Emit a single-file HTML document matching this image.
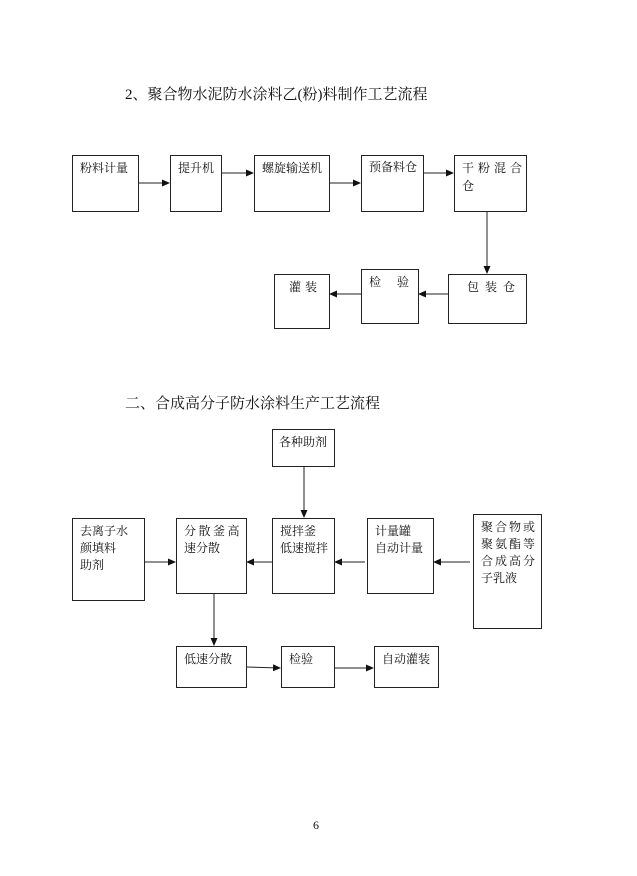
<!DOCTYPE html>
<html><head><meta charset="utf-8"><style>
html,body{margin:0;padding:0;background:#fff;}
body{width:637px;height:876px;position:relative;overflow:hidden;font-family:"Liberation Serif","Noto Serif CJK SC","Noto Sans CJK SC",serif;color:#111;}
.t{position:absolute;font-size:15px;white-space:nowrap;}
svg{position:absolute;left:0;top:0;}
</style></head><body>
<div class="t" style="left:125px;top:83px;">2、聚合物水泥防水涂料乙(粉)料制作工艺流程</div>
<div class="t" style="left:125px;top:392px;">二、合成高分子防水涂料生产工艺流程</div>
<div class="t" style="left:313px;top:818px;font-size:12px">6</div>
<svg width="637" height="876" xmlns="http://www.w3.org/2000/svg" font-family="Liberation Serif, Noto Serif CJK SC, serif" font-size="12" fill="#111">
<defs><marker id="a" markerWidth="8" markerHeight="8" refX="7" refY="4" orient="auto" markerUnits="userSpaceOnUse"><path d="M0,0.5 L8,4 L0,7.5z" fill="#111"/></marker></defs>
<g fill="none" stroke="#222" stroke-width="1">
<rect x="72.5" y="155.5" width="66" height="56"/>
<rect x="170.5" y="155.5" width="51" height="56"/>
<rect x="254.5" y="155.5" width="75" height="56"/>
<rect x="361.5" y="155.5" width="62" height="56"/>
<rect x="454.5" y="155.5" width="72" height="56"/>
<rect x="448.5" y="274.5" width="78" height="49"/>
<rect x="361.5" y="269.5" width="57" height="54"/>
<rect x="274.5" y="274.5" width="55" height="54"/>
<line x1="139" y1="183" x2="169" y2="183" marker-end="url(#a)"/>
<line x1="222" y1="173" x2="253" y2="173" marker-end="url(#a)"/>
<line x1="330" y1="183" x2="360" y2="183" marker-end="url(#a)"/>
<line x1="424" y1="173" x2="453" y2="173" marker-end="url(#a)"/>
<line x1="487" y1="212" x2="487" y2="273" marker-end="url(#a)"/>
<line x1="448" y1="294" x2="419" y2="294" marker-end="url(#a)"/>
<line x1="361" y1="294" x2="330" y2="294" marker-end="url(#a)"/>

<rect x="272.5" y="429.5" width="62" height="37"/>
<rect x="72.5" y="518.5" width="72" height="82"/>
<rect x="176.5" y="518.5" width="70" height="75"/>
<rect x="272.5" y="518.5" width="62" height="75"/>
<rect x="367.5" y="518.5" width="66" height="75"/>
<rect x="473.5" y="514.5" width="68" height="114"/>
<rect x="176.5" y="646.5" width="70" height="41"/>
<rect x="281.5" y="646.5" width="53" height="41"/>
<rect x="374.5" y="646.5" width="64" height="41"/>
<line x1="304" y1="467" x2="304" y2="517" marker-end="url(#a)"/>
<line x1="145" y1="562" x2="175" y2="562" marker-end="url(#a)"/>
<line x1="272" y1="562" x2="247" y2="562" marker-end="url(#a)"/>
<line x1="365" y1="562" x2="335" y2="562" marker-end="url(#a)"/>
<line x1="470" y1="562" x2="434" y2="562" marker-end="url(#a)"/>
<line x1="214" y1="594" x2="214" y2="645" marker-end="url(#a)"/>
<line x1="247" y1="667" x2="280" y2="668" marker-end="url(#a)"/>
<line x1="335" y1="668" x2="373" y2="668" marker-end="url(#a)"/>
</g>
<text x="80" y="172">粉料计量</text>
<text x="178" y="172">提升机</text>
<text x="262" y="172">螺旋输送机</text>
<text x="369" y="171">预备料仓</text>
<text x="462" y="172" letter-spacing="4">干粉混合</text>
<text x="462" y="190">仓</text>
<text x="289" y="291" letter-spacing="4">灌装</text>
<text x="369" y="286">检<tspan dx="16">验</tspan></text>
<text x="467" y="291" letter-spacing="6">包装仓</text>

<text x="279" y="446">各种助剂</text>
<text x="80" y="535">去离子水</text>
<text x="80" y="552">颜填料</text>
<text x="80" y="569">助剂</text>
<text x="184" y="535" letter-spacing="2.5">分散釜高</text>
<text x="184" y="552">速分散</text>
<text x="280" y="535">搅拌釜</text>
<text x="280" y="552">低速搅拌</text>
<text x="375" y="535">计量罐</text>
<text x="375" y="552">自动计量</text>
<text x="481" y="531" letter-spacing="2">聚合物或</text>
<text x="481" y="548" letter-spacing="2">聚氨酯等</text>
<text x="481" y="565" letter-spacing="2">合成高分</text>
<text x="481" y="582">子乳液</text>
<text x="184" y="663">低速分散</text>
<text x="289" y="663">检验</text>
<text x="382" y="663">自动灌装</text>
</svg>
</body></html>
